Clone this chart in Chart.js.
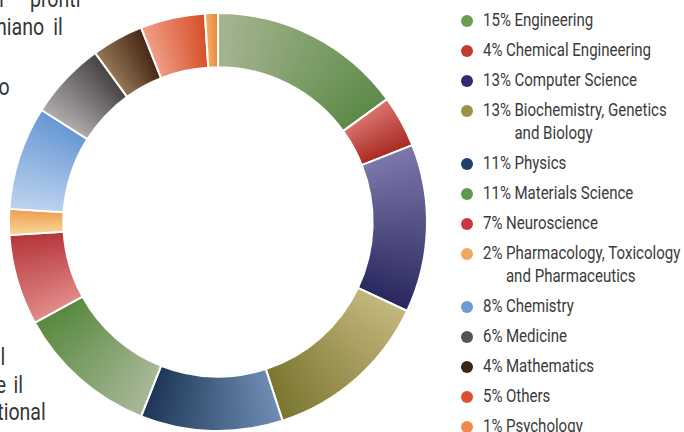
<!DOCTYPE html>
<html>
<head>
<meta charset="utf-8">
<script src="https://cdn.jsdelivr.net/npm/chart.js@4"></script>
<style>
  html, body { margin: 0; padding: 0; background: #fff; }
  #page { position: relative; width: 684px; height: 432px; overflow: hidden; }
  #chart-box { position: absolute; left: 0; top: 0; width: 440px; height: 432px; }
  .body-text {
    position: absolute; white-space: nowrap; color: #363636;
    font-family: Roboto, "DejaVu Sans Condensed", sans-serif;
    font-size: 23px; line-height: 23px; text-align: right;
    transform: scaleX(0.85); transform-origin: right center;
  }
  #legend {
    position: absolute; left: 461px; top: 9px; margin: 0; padding: 0; list-style: none;
    font-family: Roboto, "DejaVu Sans Condensed", sans-serif;
    font-size: 17.5px; line-height: 23px; color: #3a3a3a;
  }
  #legend li { position: relative; padding-left: 22px; margin-bottom: 7px; white-space: nowrap; }
  #legend .dot { position: absolute; left: 0; top: 5.5px; width: 12px; height: 12px; border-radius: 50%; }
  #legend .entry { display: flex; transform: scaleX(0.86); transform-origin: left center; }
  #legend .pct { padding-right: 4px; }
</style>
</head>
<body>
<div id="page">
  <div class="body-text" style="right:678px; top:-12px;">per</div>
  <div class="body-text" style="right:604px; top:-12px;">pronti</div>
  <div class="body-text" style="right:621px; top:16px; word-spacing:5px;">rischiano il</div>
  <div class="body-text" style="right:674px; top:76px;">lavoro</div>
  <div class="body-text" style="right:679px; top:346px;">il</div>
  <div class="body-text" style="right:661px; top:374px; word-spacing:3px;">e il</div>
  <div class="body-text" style="right:638px; top:401px;">International</div>

  <div id="chart-box"><canvas id="field-chart"></canvas></div>
  <ul id="legend"></ul>
</div>
<script>
const fields = [
  'Engineering', 'Chemical Engineering', 'Computer Science',
  'Biochemistry, Genetics\nand Biology', 'Physics', 'Materials Science',
  'Neuroscience', 'Pharmacology, Toxicology\nand Pharmaceutics', 'Chemistry',
  'Medicine', 'Mathematics', 'Others', 'Psychology'
];
const shares = [15, 4, 13, 13, 11, 11, 7, 2, 8, 6, 4, 5, 1];

// each ring segment fades from a pale tint to its full colour, clockwise
const paleColors = [
  '#a6b592', '#d9726c', '#7d78ab', '#c3b77e', '#6f8db3', '#a8b898', '#e28a8a',
  '#f8d494', '#bcd3ef', '#b0abab', '#957656', '#ef9f86', '#f3b066'
];
const deepColors = [
  '#5d8a48', '#a82a22', '#29285e', '#7a762f', '#1d3657', '#58893f', '#b5363b',
  '#ee9f4e', '#6797d4', '#474344', '#472614', '#d74f29', '#e8873a'
];
const dotColors = [
  '#6a9c52', '#c23b2d', '#2f2b72', '#9a9447', '#1f3e68', '#5f9a4a', '#c9373f',
  '#f0a860', '#6a9bd7', '#555355', '#3b2317', '#d9522b', '#ee8b4a'
];

const total = shares.reduce((a, b) => a + b, 0);

function segmentFill(context) {
  const chart = context.chart;
  const area = chart.chartArea;
  const i = context.dataIndex;
  if (!area || i === undefined || !chart.ctx.createConicGradient) return deepColors[i] || '#999';
  const before = shares.slice(0, i).reduce((a, b) => a + b, 0);
  const cx = (area.left + area.right) / 2;
  const cy = (area.top + area.bottom) / 2;
  const start = -Math.PI / 2 + before / total * Math.PI * 2;
  const span = shares[i] / total;
  const grad = chart.ctx.createConicGradient(start, cx, cy);
  grad.addColorStop(0, paleColors[i]);
  grad.addColorStop(span, deepColors[i]);
  grad.addColorStop(1, deepColors[i]);
  return grad;
}

new Chart(document.getElementById('field-chart'), {
  type: 'doughnut',
  data: {
    labels: fields.map(f => f.replace('\n', ' ')),
    datasets: [{
      data: shares,
      backgroundColor: segmentFill,
      borderColor: '#ffffff',
      borderWidth: 2
    }]
  },
  options: {
    responsive: true,
    maintainAspectRatio: false,
    animation: false,
    cutout: '74%',
    layout: { padding: { top: 12, bottom: 0, left: 8, right: 12 } },
    plugins: {
      legend: { display: false },
      tooltip: { enabled: false }
    }
  }
});

// legend list on the right
const legend = document.getElementById('legend');
fields.forEach((name, i) => {
  const li = document.createElement('li');
  const dot = document.createElement('span');
  dot.className = 'dot';
  dot.style.background = dotColors[i];
  const entry = document.createElement('span');
  entry.className = 'entry';
  const pct = document.createElement('span');
  pct.className = 'pct';
  pct.textContent = shares[i] + '%';
  const label = document.createElement('span');
  label.innerHTML = name.replace('\n', '<br>');
  entry.append(pct, label);
  li.append(dot, entry);
  legend.appendChild(li);
});
</script>
</body>
</html>
